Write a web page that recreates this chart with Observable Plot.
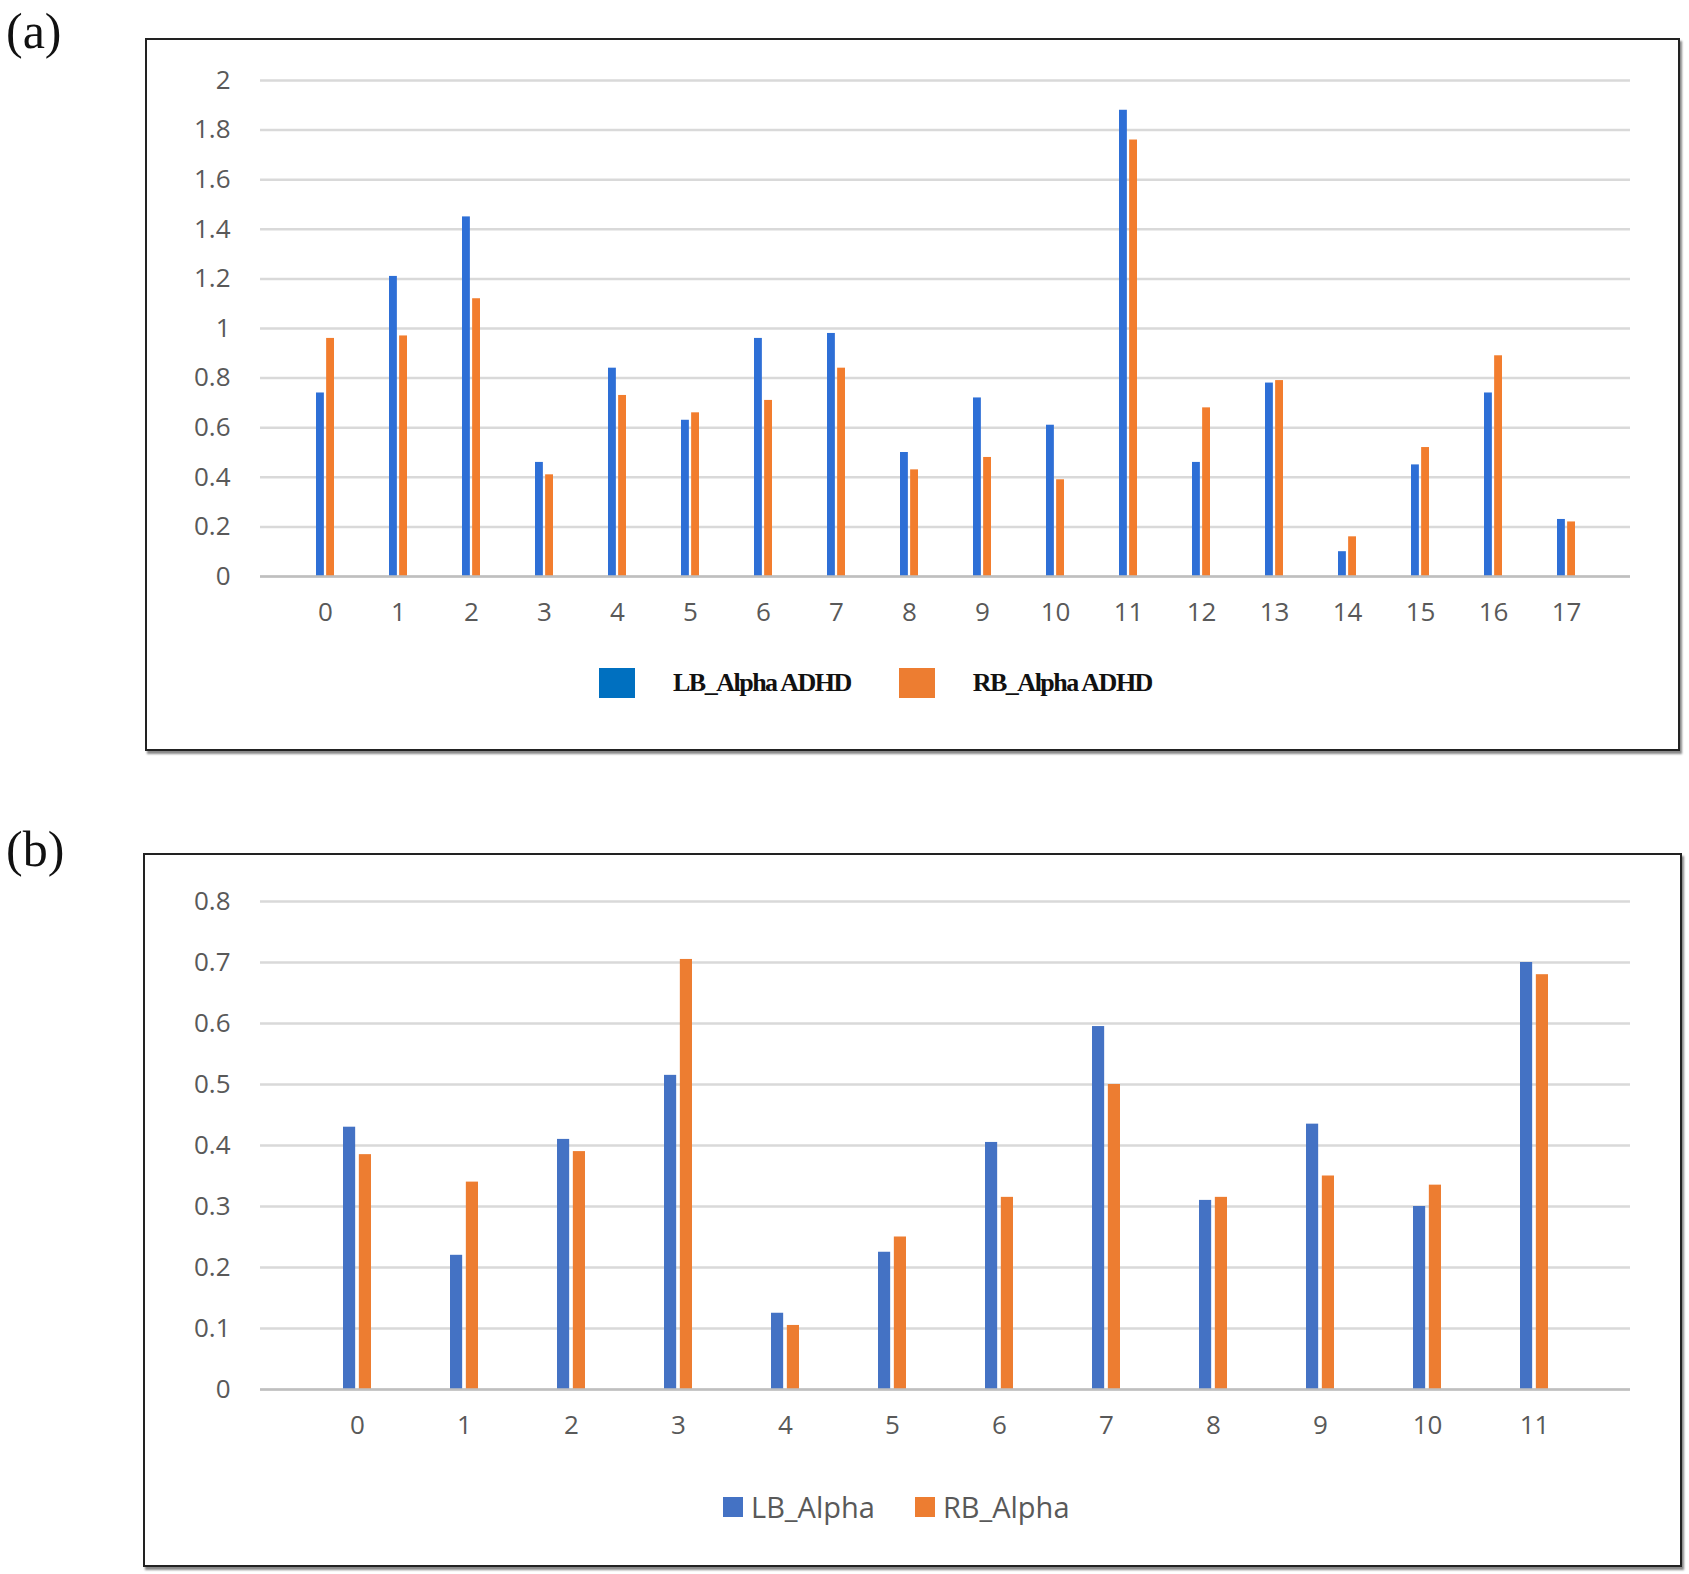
<!DOCTYPE html>
<html><head><meta charset="utf-8">
<script src="https://cdn.jsdelivr.net/npm/d3@7"></script>
<script src="https://cdn.jsdelivr.net/npm/@observablehq/plot@0.6"></script>
<style>
body{margin:0;background:#fff;width:1689px;height:1574px;position:relative;overflow:hidden}
.box{position:absolute;border:2px solid #222;box-shadow:2px 3px 2px #888;background:#fff}
.lab{position:absolute;font-family:"Liberation Serif",serif;font-size:50px;color:#111}
.leg{position:absolute;display:flex;align-items:center;white-space:nowrap}
.sw{display:inline-block}
</style></head><body>
<div class="lab" style="left:6px;top:2px">(a)</div>
<div class="lab" style="left:6px;top:820px">(b)</div>
<div id="a" class="box" style="left:145px;top:38px;width:1531px;height:709px"></div>
<div id="b" class="box" style="left:143px;top:853px;width:1535px;height:710px"></div>
<script>
const catsA = d3.range(18).map(String);
const lbA = [0.74,1.21,1.45,0.46,0.84,0.63,0.96,0.98,0.50,0.72,0.61,1.88,0.46,0.78,0.10,0.45,0.74,0.23];
const rbA = [0.96,0.97,1.12,0.41,0.73,0.66,0.71,0.84,0.43,0.48,0.39,1.76,0.68,0.79,0.16,0.52,0.89,0.22];
const seriesA = ["LB_Alpha ADHD","RB_Alpha ADHD"];
const catsB = d3.range(12).map(String);
const lbB = [0.43,0.22,0.41,0.515,0.125,0.225,0.405,0.595,0.31,0.435,0.30,0.70];
const rbB = [0.385,0.34,0.39,0.705,0.105,0.25,0.315,0.50,0.315,0.35,0.335,0.68];
const seriesB = ["LB_Alpha","RB_Alpha"];
const ticksA = [0,0.2,0.4,0.6,0.8,1,1.2,1.4,1.6,1.8,2];
const ticksB = [0,0.1,0.2,0.3,0.4,0.5,0.6,0.7,0.8];

function chart(el, cats, lb, rb, ticks, ymax, colors, pad, w, h, m){
  const data = cats.map((c,i)=>({c, l:lb[i], r:rb[i]}));
  const bw = (w - m[0] - m[1]) / cats.length * (1 - pad);
  const half = bw / 2;
  const p = Plot.plot({
    width:w, height:h, marginLeft:m[0], marginRight:m[1], marginTop:m[2], marginBottom:m[3],
    style:{fontFamily:"'Open Sans',sans-serif", fontSize:"26px", color:"#595959", background:"transparent"},
    x:{domain:cats, padding:pad, align:0.5, label:null, tickSize:0, tickPadding:26},
    y:{domain:[0,ymax], ticks:ticks, tickSize:0, tickPadding:30, label:null, tickFormat:d=>String(d)},
    marks:[
      Plot.gridY(ticks,{stroke:"#d9d9d9", strokeOpacity:1, strokeWidth:2.5}),
      Plot.barY(data,{x:"c", y:"l", fill:colors[0], insetRight:half+1}),
      Plot.barY(data,{x:"c", y:"r", fill:colors[1], insetLeft:half+1}),
      Plot.ruleY([0],{stroke:"#bfbfbf", strokeWidth:2.5})
    ]
  });
  p.style.position="absolute"; p.style.left="0px"; p.style.top="0px";
  el.appendChild(p);
}
chart(document.getElementById("a"), catsA, lbA, rbA, ticksA, 2, ["#2e6fd6","#f27d2e"], 0.76, 1531, 709, [113,48,40,173]);
chart(document.getElementById("b"), catsB, lbB, rbB, ticksB, 0.8, ["#4472c4","#ed7d31"], 0.74, 1535, 710, [115,50,46,176]);

const la = document.createElement("div"); la.className="leg";
la.style.cssText += "left:452px;top:628px;font-family:'Liberation Serif',serif;font-weight:bold;font-size:26px;color:#111;letter-spacing:-1.5px";
la.innerHTML = `<span class="sw" style="width:36px;height:30px;background:#0070c0;margin-right:38px"></span>${seriesA[0]}<span class="sw" style="width:36px;height:30px;background:#ed7d31;margin:0 38px 0 48px"></span>${seriesA[1]}`;
document.getElementById("a").appendChild(la);
const lb2 = document.createElement("div"); lb2.className="leg";
lb2.style.cssText += "left:578px;top:632px;font-family:'Open Sans',sans-serif;font-size:29px;color:#595959";
lb2.innerHTML = `<span class="sw" style="width:20px;height:20px;background:#4472c4;margin-right:8px"></span>${seriesB[0]}<span class="sw" style="width:20px;height:20px;background:#ed7d31;margin:0 8px 0 40px"></span>${seriesB[1]}`;
document.getElementById("b").appendChild(lb2);
</script>
</body></html>
